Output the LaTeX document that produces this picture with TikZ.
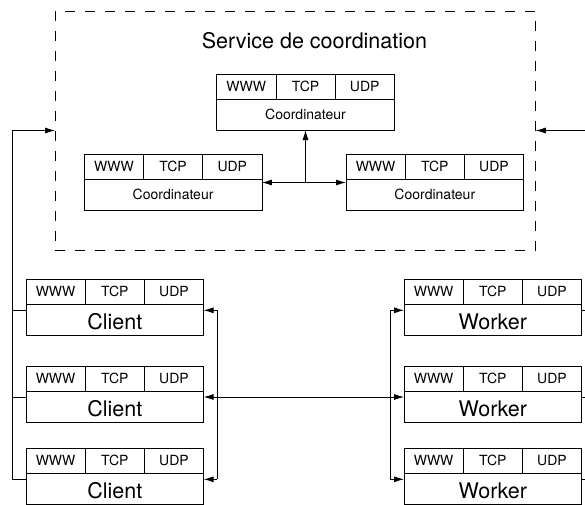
\documentclass[tikz,border=0pt]{standalone}
\usepackage{fontspec}
\setmainfont{TeX Gyre Heros}
\usetikzlibrary{arrows.meta}

% one box: three protocol cells over a label cell
\newcommand{\protobox}[4]{%
 \node[cell,anchor=north west] (#1-w) at (#2) {WWW};
 \node[cell,anchor=north west] (#1-t) at (#1-w.north east) {TCP};
 \node[cell,anchor=north west] (#1-u) at (#1-t.north east) {UDP};
 \node[#4,anchor=north west] (#1) at (#1-w.south west) {#3};
}

\begin{document}
\begin{tikzpicture}[x=1pt,y=-1pt,line width=0.8pt,
 cell/.style={draw,minimum width=59.2pt,minimum height=25pt,inner sep=0pt,outer sep=0pt,
  font=\fontsize{14}{16}\selectfont},
 smallcell/.style={draw,minimum width=177.6pt,minimum height=31pt,inner sep=0pt,outer sep=0pt,
  font=\fontsize{14}{16}\selectfont},
 bigcell/.style={draw,minimum width=177.6pt,minimum height=31pt,inner sep=0pt,outer sep=0pt,
  text height=19pt,text depth=0pt,font=\fontsize{21.5}{24}\selectfont},
 arr/.style={-{Latex[length=10pt,width=6pt]}},
 arrs/.style={{Latex[length=10pt,width=6pt]}-{Latex[length=10pt,width=6pt]}}]
 \useasboundingbox (0,0) rectangle (585,504);

 % service de coordination
 \node[draw,dashed,dash pattern=on 10pt off 10pt,minimum width=480.7pt,minimum height=239pt,
  inner sep=0pt,outer sep=0pt] (service) at (295.4,130.5) {};
 \node[anchor=base,font=\fontsize{21.5}{24}\selectfont] (title) at (314.4,48.3) {Service de coordination};

 \protobox{cdT}{216.7,74}{Coordinateur}{smallcell}
 \protobox{cdL}{84.3,154}{Coordinateur}{smallcell}
 \protobox{cdR}{346,154}{Coordinateur}{smallcell}

 % clients and workers
 \foreach \i/\y in {1/279.3,2/366,3/448.3}{
  \protobox{cl\i}{26,\y}{Client}{bigcell}
  \protobox{wk\i}{404,\y}{Worker}{bigcell}
 }

 \coordinate (lbus) at (12.3,130.5);
 \coordinate (rbus) at (598,130.5);

 % links inside the service
 \draw[arrs] ([yshift=-3.5pt]cdL.north east) coordinate (lt) -- ([yshift=-3.5pt]cdR.north west);
 \coordinate (hub) at (lt -| cdT.south);
 \draw[arr] (hub) -- (cdT.south);

 % clients to the service
 \draw[arr] ([yshift=-6pt]cl3.north west) -| (lbus) -- (service.west);
 \draw ([yshift=-6pt]cl1.north west) -- ++(-13.7,0);
 \draw ([yshift=-6pt]cl2.north west) -- ++(-13.7,0);

 % workers to the service
 \draw[arr] ([yshift=-6pt]wk3.north east) -| (rbus) -- (service.east);
 \draw ([yshift=-6pt]wk1.north east) -- ++(16.4,0);
 \draw ([yshift=-6pt]wk2.north east) -- ++(16.4,0);

 % clients to workers
 \draw ([xshift=13.4pt,yshift=-6pt]cl1.north east) -- ([xshift=13.4pt,yshift=-6pt]cl3.north east);
 \draw ([xshift=-14pt,yshift=-6pt]wk1.north west) -- ([xshift=-14pt,yshift=-6pt]wk3.north west);
 \foreach \i in {1,2,3}{
  \draw[arr] ([xshift=13.4pt,yshift=-6pt]cl\i.north east) -- ([yshift=-6pt]cl\i.north east);
  \draw[arr] ([xshift=-14pt,yshift=-6pt]wk\i.north west) -- ([yshift=-6pt]wk\i.north west);
 }
 \draw ([xshift=13.4pt,yshift=-6pt]cl2.north east) -- ([xshift=-14pt,yshift=-6pt]wk2.north west);

\end{tikzpicture}
\end{document}
